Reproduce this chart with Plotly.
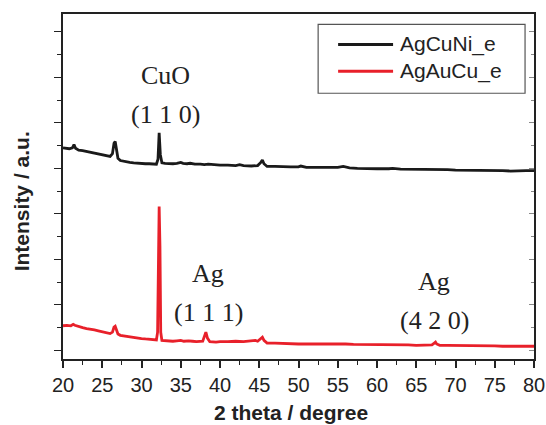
import plotly.graph_objects as go

# AgCuNi_e (black) diffractogram
black_x = [20.0, 20.4, 20.8, 21.2, 21.4, 21.6, 22.0, 22.5, 23.0, 23.5, 24.0, 24.5, 25.0, 25.5, 26.0,
           26.3, 26.5, 26.65, 26.8, 27.0, 27.3, 27.8, 28.5, 29.0, 29.5, 30.0, 30.5, 31.0, 31.5, 31.9,
           32.1, 32.25, 32.4, 32.6, 33.0, 33.5, 34.0, 34.5, 35.0, 35.3, 35.8, 36.2, 36.8, 37.5, 38.0,
           38.5, 39.0, 40.0, 41.0, 42.0, 42.5, 43.0, 44.0, 44.8, 45.2, 45.4, 45.6, 46.0, 47.0, 48.0,
           49.0, 50.0, 50.3, 51.0, 52.0, 53.0, 54.0, 55.0, 55.7, 56.5, 57.5, 59.0, 60.0, 61.5, 62.0,
           63.0, 64.0, 65.0, 66.0, 67.0, 68.0, 69.0, 70.0, 71.0, 72.0, 73.0, 74.0, 75.0, 76.0, 77.0,
           78.0, 79.0, 80.0]
black_y = [4.45, 4.44, 4.43, 4.45, 4.52, 4.44, 4.40, 4.39, 4.37, 4.35, 4.33, 4.32, 4.30, 4.28, 4.26,
           4.32, 4.55, 4.59, 4.45, 4.22, 4.17, 4.15, 4.13, 4.12, 4.11, 4.11, 4.10, 4.10, 4.09, 4.09,
           4.20, 4.78, 4.30, 4.12, 4.11, 4.10, 4.10, 4.11, 4.13, 4.11, 4.10, 4.11, 4.09, 4.09, 4.08,
           4.09, 4.08, 4.07, 4.07, 4.06, 4.08, 4.06, 4.05, 4.06, 4.13, 4.18, 4.10, 4.04, 4.04, 4.03,
           4.03, 4.03, 4.05, 4.02, 4.02, 4.02, 4.01, 4.02, 4.04, 4.01, 4.00, 3.99, 3.99, 3.99, 4.00,
           3.98, 3.98, 3.97, 3.97, 3.98, 3.97, 3.97, 3.96, 3.96, 3.96, 3.95, 3.96, 3.95, 3.95, 3.94,
           3.95, 3.95, 3.95]

# AgAuCu_e (red) diffractogram
red_x = [20.0, 20.5, 21.0, 21.3, 21.5, 22.0, 22.5, 23.0, 23.5, 24.0, 24.5, 25.0, 25.5, 26.0, 26.3,
         26.5, 26.65, 26.8, 27.0, 27.3, 28.0, 28.5, 29.0, 29.5, 30.0, 30.5, 31.0, 31.5, 31.9, 32.05,
         32.15, 32.25, 32.35, 32.45, 32.6, 33.0, 33.5, 34.0, 34.5, 35.0, 35.4, 36.0, 36.5, 37.0, 37.8,
         38.0, 38.2, 38.4, 38.7, 39.5, 40.0, 41.0, 42.0, 43.0, 44.0, 44.5, 44.8, 45.2, 45.4, 45.6,
         46.0, 47.0, 48.0, 49.0, 50.0, 51.0, 52.0, 53.0, 54.0, 55.0, 56.0, 57.0, 58.0, 59.0, 60.0,
         61.0, 62.0, 63.0, 64.0, 65.0, 66.0, 67.0, 67.3, 67.45, 67.6, 68.0, 69.0, 70.0, 71.0, 72.0,
         73.0, 74.0, 75.0, 76.0, 77.0, 78.0, 79.0, 80.0]
red_y = [0.54, 0.55, 0.54, 0.57, 0.55, 0.52, 0.50, 0.48, 0.47, 0.45, 0.43, 0.41, 0.39, 0.37, 0.40,
         0.51, 0.53, 0.44, 0.36, 0.33, 0.31, 0.29, 0.28, 0.27, 0.26, 0.25, 0.24, 0.23, 0.23, 0.40,
         2.40, 3.16, 2.30, 0.40, 0.22, 0.21, 0.21, 0.20, 0.21, 0.22, 0.20, 0.21, 0.20, 0.19, 0.20,
         0.28, 0.40, 0.27, 0.19, 0.18, 0.19, 0.19, 0.20, 0.19, 0.20, 0.22, 0.20, 0.26, 0.29, 0.22,
         0.16, 0.16, 0.15, 0.15, 0.14, 0.14, 0.14, 0.14, 0.15, 0.15, 0.14, 0.13, 0.13, 0.13, 0.12,
         0.12, 0.12, 0.12, 0.12, 0.11, 0.11, 0.12, 0.16, 0.18, 0.14, 0.11, 0.11, 0.11, 0.10, 0.10,
         0.10, 0.10, 0.10, 0.09, 0.09, 0.09, 0.09, 0.09]

series_names = ["AgCuNi_e", "AgAuCu_e"]
series_colors = ["#1a1a1a", "#e8202a"]

x_ticks = [20, 25, 30, 35, 40, 45, 50, 55, 60, 65, 70, 75, 80]
y_ticks = [0, 1, 2, 3, 4, 5, 6, 7]

labels_text = ["CuO", "(1 1 0)", "Ag", "(1 1 1)", "Ag", "(4 2 0)"]
labels_x = [33.1, 33.1, 38.5, 38.5, 67.3, 67.3]
labels_y = [6.03, 5.19, 1.68, 0.83, 1.51, 0.65]

fig = go.Figure()
fig.add_trace(go.Scatter(x=black_x, y=black_y, mode="lines", name=series_names[0],
                         line=dict(color=series_colors[0], width=2.8), showlegend=False))
fig.add_trace(go.Scatter(x=red_x, y=red_y, mode="lines", name=series_names[1],
                         line=dict(color=series_colors[1], width=2.8), showlegend=False))
# invisible trace to carry the mirrored right axis
fig.add_trace(go.Scatter(x=[20], y=[0], yaxis="y2", mode="markers", showlegend=False,
                         marker=dict(opacity=0), hoverinfo="skip"))

for t, xx, yy in zip(labels_text, labels_x, labels_y):
    fig.add_annotation(x=xx, y=yy, text=t, showarrow=False, xanchor="center", yanchor="middle",
                       font=dict(family="Liberation Serif", size=26, color="#222222"))

fig.add_annotation(xref="paper", yref="paper", x=0.4844, y=-0.155, text="<b>2 theta / degree</b>",
                   showarrow=False, xanchor="center", yanchor="middle",
                   font=dict(family="Liberation Sans", size=21, color="#222222"))
fig.add_annotation(xref="paper", yref="paper", x=-0.0864, y=0.458, text="<b>Intensity / a.u.</b>",
                   showarrow=False, xanchor="center", yanchor="middle", textangle=-90,
                   font=dict(family="Liberation Sans", size=21, color="#222222"))

# legend box with long line samples (as in the reference)
fig.add_shape(type="rect", xref="paper", yref="paper", x0=0.5417, x1=0.981, y0=0.7703, y1=0.970,
              line=dict(color="#555555", width=1.2), fillcolor="rgba(0,0,0,0)")
legend_rows_y = [0.9116, 0.8340]
for name, color, ly in zip(series_names, series_colors, legend_rows_y):
    fig.add_shape(type="line", xref="paper", yref="paper", x0=0.5841, x1=0.7008, y0=ly, y1=ly,
                  line=dict(color=color, width=2.8))
    fig.add_annotation(xref="paper", yref="paper", x=0.7114, y=ly, text=name, showarrow=False,
                       xanchor="left", yanchor="middle",
                       font=dict(family="Liberation Sans", size=21, color="#222222"))

axis_common = dict(showgrid=False, zeroline=False, showline=True, linecolor="#222222",
                   linewidth=1.5, automargin=False)

fig.update_layout(
    width=546, height=425,
    margin=dict(l=63, r=12, t=14, b=66, autoexpand=False),
    plot_bgcolor="white", paper_bgcolor="white",
    showlegend=False,
    xaxis=dict(range=[20, 80], tickvals=x_ticks, ticks="outside", ticklen=7, tickwidth=1.5,
               tickcolor="#222222", mirror=True,
               tickfont=dict(family="Liberation Sans", size=20, color="#222222"),
               minor=dict(dtick=2.5, ticks="outside", ticklen=4, tickwidth=1.2, tickcolor="#222222"),
               **axis_common),
    yaxis=dict(range=[-0.19, 7.39], tickvals=y_ticks, ticks="outside", ticklen=7, tickwidth=1.3,
               tickcolor="#222222", showticklabels=False, mirror=True,
               minor=dict(dtick=0.5, ticks="outside", ticklen=4, tickwidth=1.2, tickcolor="#222222"),
               **axis_common),
    yaxis2=dict(range=[-0.19, 7.39], overlaying="y", side="right", tickvals=y_ticks,
                ticks="inside", ticklen=5, tickwidth=1, tickcolor="#888888", showticklabels=False,
                showgrid=False, zeroline=False, showline=False, automargin=False,
                minor=dict(dtick=0.5, ticks="inside", ticklen=3, tickwidth=1, tickcolor="#888888")),
)

fig.write_html("out.html")
